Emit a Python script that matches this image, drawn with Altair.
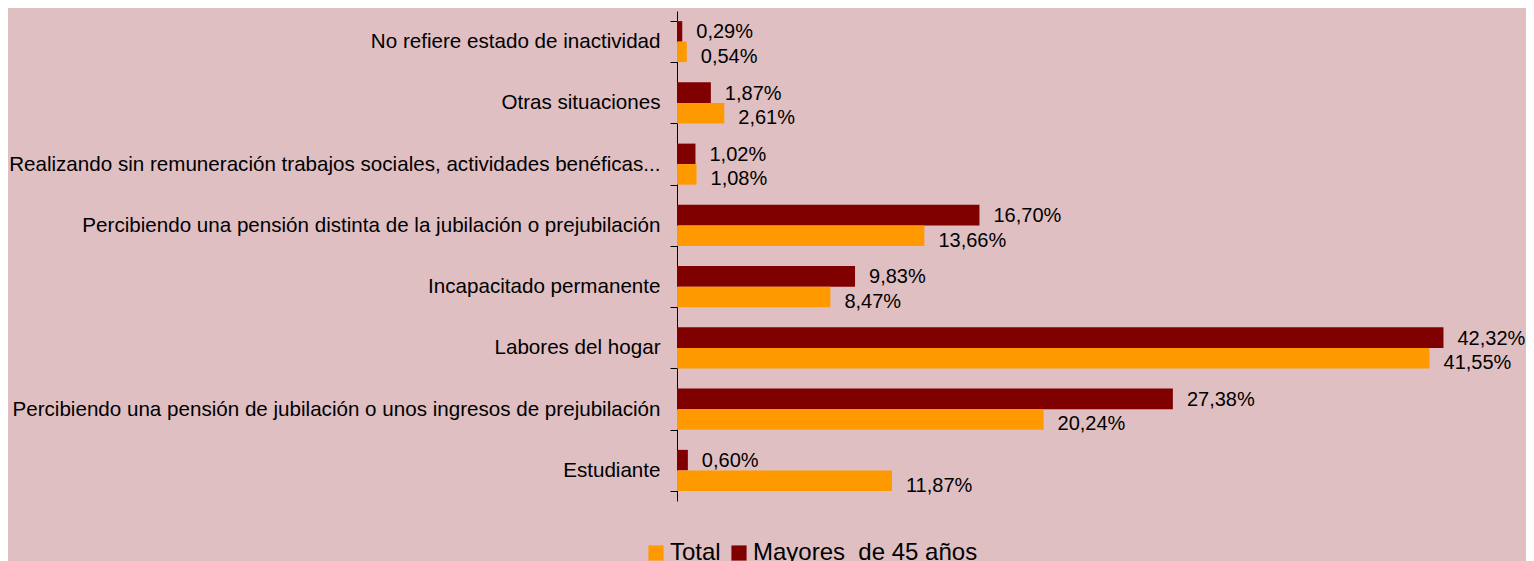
import altair as alt
import pandas as pd

categories = [
    "No refiere estado de inactividad",
    "Otras situaciones",
    "Realizando sin remuneración trabajos sociales, actividades benéficas...",
    "Percibiendo una pensión distinta de la jubilación o prejubilación",
    "Incapacitado permanente",
    "Labores del hogar",
    "Percibiendo una pensión de jubilación o unos ingresos de prejubilación",
    "Estudiante",
]
mayores = [0.29, 1.87, 1.02, 16.70, 9.83, 42.32, 27.38, 0.60]
total = [0.54, 2.61, 1.08, 13.66, 8.47, 41.55, 20.24, 11.87]
series_names = ["Total", "Mayores\u00a0 de 45 años"]
series_colors = ["#ff9900", "#800000"]

rows = []
for c, m, t in zip(categories, mayores, total):
    rows.append({"cat": c, "serie": series_names[1], "v": m})
    rows.append({"cat": c, "serie": series_names[0], "v": t})
df = pd.DataFrame(rows)

FONT = "Liberation Sans"

base = alt.Chart(df).transform_calculate(
    lab="replace(format(datum.v, '.2f'), '.', ',') + '%'"
).encode(
    y=alt.Y("cat:N", sort=categories, title=None,
            scale=alt.Scale(paddingInner=0.33, paddingOuter=0.165),
            axis=alt.Axis(domainColor="black", tickColor="black", tickSize=7,
                          tickBand="extent", labelFont=FONT, labelFontSize=20.6,
                          labelColor="black", labelLimit=800, labelPadding=10,
                          grid=False, domainWidth=1)),
    yOffset=alt.YOffset("serie:N", sort=[series_names[1], series_names[0]],
                        scale=alt.Scale(paddingInner=0, paddingOuter=0)),
    x=alt.X("v:Q", scale=alt.Scale(domain=[0, 45], nice=False), axis=None, title=None),
)

bars = base.mark_bar().encode(
    color=alt.Color("serie:N", scale=alt.Scale(domain=series_names, range=series_colors),
                    legend=alt.Legend(title=None, orient="none", legendX=-33, legendY=530,
                                      direction="horizontal", symbolType="square",
                                      symbolSize=230, symbolStrokeWidth=0,
                                      labelFont=FONT, labelFontSize=24, labelColor="black",
                                      labelLimit=500, columnPadding=6, labelOffset=2))
)

text_may = base.transform_filter(
    alt.datum.serie == series_names[1]
).mark_text(align="left", baseline="middle", dx=14, dy=1, font=FONT,
            fontSize=20, color="black").encode(text="lab:N")

text_tot = base.transform_filter(
    alt.datum.serie == series_names[0]
).mark_text(align="left", baseline="middle", dx=14, dy=5, font=FONT,
            fontSize=20, color="black").encode(text="lab:N")

chart = alt.layer(bars, text_may, text_tot).properties(
    width=815, height=490,
    background="#dfbfc2",
    autosize=alt.AutoSizeParams(type="none"),
    padding={"left": 669, "top": 3, "right": 34, "bottom": 70},
).configure_view(stroke=None)

chart.save("out.html", embed_options={"renderer": "svg", "actions": False})
